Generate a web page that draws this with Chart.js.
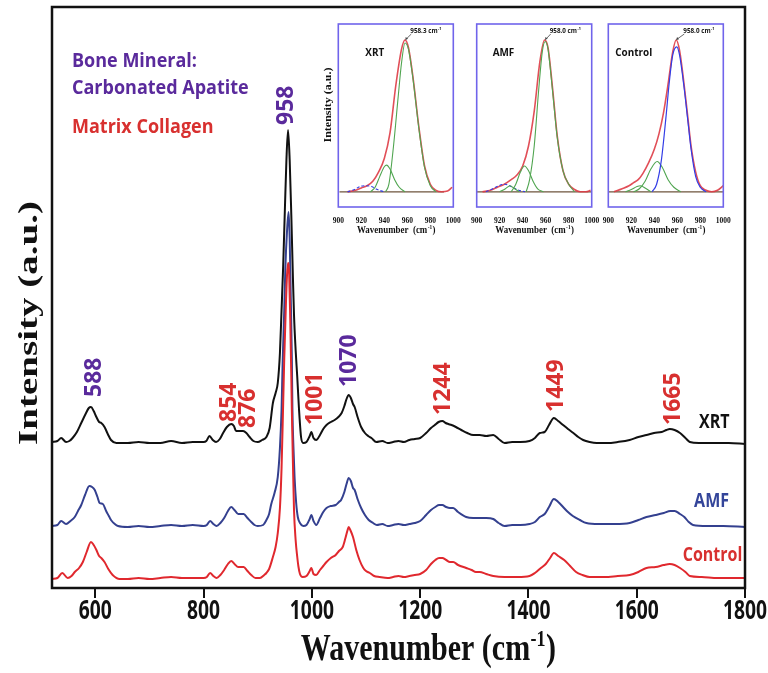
<!DOCTYPE html>
<html>
<head>
<meta charset="utf-8">
<script src="https://cdn.jsdelivr.net/npm/chart.js"></script>
<style>
  body { margin: 0; background: #fff; }
  #wrap { position: relative; width: 768px; height: 673px; }
  #wrap canvas { position: absolute; }
</style>
</head>
<body>
<div id="wrap">
  <canvas id="main" width="768" height="673" style="left:0;top:0"></canvas>
  <canvas id="inXRT" width="150" height="228" style="left:316px;top:16px"></canvas>
  <canvas id="inAMF" width="144" height="228" style="left:462px;top:16px"></canvas>
  <canvas id="inCtrl" width="140" height="228" style="left:596px;top:16px"></canvas>
</div>
<script>
// --- DATA ---

const xTickValues = [600, 800, 1000, 1200, 1400, 1600, 1800];
const insetTickValues = [900, 920, 940, 960, 980, 1000];

// main spectra: wavenumber (cm-1) and stacked intensity (a.u.)
const xrtWn = [520,530,537,546,552,558,566,574,582,588,592,597,602,607,611,617,623,629,639,660,680,700,720,740,760,780,800,805,811,817,823,830,836,843,851,856,860,866,873,879,885,892,900,908,916,922,928,933,937,941,944,947,950,953,956,959,962,965,967,970,973,976,980,984,990,996,999,1003,1008,1015,1021,1027,1035,1042,1049,1055,1060,1064,1068,1072,1076,1079,1085,1091,1098,1104,1110,1119,1130,1140,1150,1160,1170,1180,1190,1200,1211,1220,1227,1234,1241,1247,1252,1258,1266,1276,1287,1298,1310,1322,1335,1345,1356,1370,1385,1402,1412,1421,1430,1438,1447,1455,1464,1473,1483,1492,1501,1513,1526,1545,1565,1587,1603,1618,1632,1646,1655,1661,1670,1680,1690,1698,1715,1741,1770,1800];
const xrtI = [146,147,150,146,147,150,156,165,174,180,181,177,171,166,165,161,154,148,145,145,146,145,145,147,145,146,146,147,152,148,146,149,155,161,164,162,157,157,157,155,151,147,146,148,151,160,185,195,205,235,278,322,376,428,458,428,373,310,273,238,211,181,151,145,146,152,156,150,148,153,159,163,166,168,171,175,182,189,193,190,184,181,170,161,155,152,150,146,147,145,146,147,146,148,149,150,155,160,163,166,167,165,164,163,161,158,155,153,153,152,153,149,145,146,146,147,150,155,156,163,170,167,163,159,155,151,148,146,145,145,146,148,151,153,155,156,158,159,158,155,150,146,145,145,145,144];

const amfWn = [520,530,537,546,554,562,568,574,581,589,594,599,604,608,614,620,625,629,636,642,660,680,700,720,740,760,780,800,806,812,818,824,831,838,845,851,857,864,870,874,881,888,894,900,910,916,921,925,931,937,941,944,946,949,951,954,957,959,961,963,964,966,968,971,974,978,984,990,996,999,1003,1008,1015,1021,1027,1035,1044,1050,1054,1060,1064,1068,1072,1076,1079,1085,1091,1098,1105,1113,1120,1130,1140,1150,1160,1170,1180,1190,1200,1211,1220,1228,1235,1241,1248,1255,1261,1270,1285,1298,1310,1322,1335,1345,1356,1370,1385,1402,1412,1421,1430,1438,1447,1455,1464,1473,1482,1495,1507,1530,1560,1587,1603,1618,1635,1650,1662,1670,1680,1688,1696,1704,1730,1760,1800];
const amfI = [62,63,67,64,67,71,77,83,93,102,101,98,91,85,84,77,72,68,64,62,61,62,61,62,63,62,63,62,63,67,64,62,65,70,77,81,78,74,74,74,70,66,63,62,63,68,74,84,95,111,140,178,225,278,320,356,376,350,290,230,180,140,111,85,71,65,62,63,69,73,67,63,70,76,80,82,83,86,88,96,104,110,107,100,98,88,80,73,68,65,63,64,62,63,64,63,64,65,67,73,78,81,83,83,81,80,80,76,71,70,70,70,69,65,62,63,63,64,66,71,74,81,89,86,81,76,72,68,65,64,64,65,68,71,73,75,77,77,74,71,66,63,62,62,61];

const ctrlWn = [520,530,539,549,556,562,570,577,584,592,597,602,607,611,617,624,632,645,660,680,700,720,740,760,780,800,806,812,818,824,831,838,845,851,857,864,870,874,881,888,896,904,912,916,921,928,933,937,941,944,947,949,952,954,956,958,960,962,963,965,967,970,973,975,978,983,990,996,999,1003,1008,1015,1021,1027,1035,1044,1050,1057,1062,1066,1068,1071,1076,1082,1088,1095,1100,1107,1115,1125,1140,1150,1160,1170,1180,1190,1200,1211,1220,1228,1235,1241,1248,1255,1261,1270,1285,1295,1303,1310,1322,1335,1356,1380,1402,1412,1423,1432,1440,1447,1455,1466,1477,1488,1500,1513,1540,1565,1587,1603,1618,1635,1650,1661,1670,1680,1690,1698,1720,1750,1800];
const ctrlI = [9,10,15,10,12,16,20,26,36,46,43,38,32,30,26,19,13,9,9,10,9,10,11,10,10,10,11,15,12,10,13,18,24,27,24,21,21,21,17,13,10,10,13,15,19,31,41,55,80,120,185,230,283,312,325,315,270,212,178,125,78,48,31,22,14,11,12,17,20,14,13,18,22,26,30,33,37,41,50,58,61,58,51,38,28,20,17,15,12,11,10,11,12,11,12,13,14,18,24,28,30,30,28,26,26,23,20,18,16,16,14,12,11,11,12,15,20,24,30,35,32,28,22,16,13,11,11,12,13,16,20,21,23,24,23,20,16,12,11,10,10];

// inset fits of the 958 band (normalised)
const xrtSumWn = [908,915,920,925,930,935,940,945,950,955,958,961,965,970,975,980,985,990,995,999];
const xrtSumI = [0,0.01,0.025,0.04,0.07,0.13,0.22,0.39,0.70,0.94,1.0,0.95,0.75,0.43,0.17,0.05,0.01,0,0.005,0.03];
const xrtMainWn = [941,944,948,952,955,958,961,965,970,975,980,985];
const xrtMainI = [0,0.05,0.3,0.62,0.85,0.98,0.94,0.74,0.42,0.16,0.04,0];
const xrtSideWn = [928,932,936,940,942,945,949,953,958];
const xrtSideI = [0,0.03,0.1,0.165,0.176,0.15,0.08,0.03,0];
const xrtLowWn = [908,914,919,924,929,934,940];
const xrtLowI = [0,0.015,0.035,0.04,0.035,0.015,0];
const xrtBaseWn = [901,992];
const xrtBaseI = [0,0];

const amfSumWn = [905,912,918,924,930,935,940,945,950,955,959,962,966,970,975,980,985,990,995,999];
const amfSumI = [0,0.01,0.03,0.05,0.08,0.11,0.17,0.3,0.53,0.86,1.0,0.95,0.68,0.37,0.14,0.05,0.015,0,0,0.01];
const amfMainWn = [943,946,950,954,957,959.5,962,966,970,975,980,985];
const amfMainI = [0,0.08,0.3,0.68,0.92,0.99,0.94,0.66,0.36,0.14,0.05,0];
const amfSideWn = [930,934,938,941.5,945,949,953,958];
const amfSideI = [0,0.05,0.13,0.17,0.14,0.07,0.02,0];
const amfSmallWn = [920,925,929,933,937];
const amfSmallI = [0,0.02,0.04,0.02,0];
const amfLowWn = [908,914,919,924.5,930,936,942];
const amfLowI = [0,0.02,0.04,0.05,0.035,0.012,0];
const amfBaseWn = [900,1000];
const amfBaseI = [0,0];

const ctrlSumWn = [905,912,918,922,926,930,935,940,944,948,952,956,959,962,966,969,972,976,980,985,990,995,1000];
const ctrlSumI = [0,0.02,0.04,0.06,0.08,0.12,0.19,0.28,0.38,0.52,0.71,0.92,1.0,0.93,0.7,0.5,0.3,0.13,0.04,0.01,0,0.01,0.04];
const ctrlMainWn = [938,942,946,950,953,956,959.5,962,966,969,972,976,980,985];
const ctrlMainI = [0,0.05,0.2,0.48,0.72,0.9,0.955,0.9,0.68,0.48,0.28,0.1,0.03,0];
const ctrlSideWn = [922,927,932,937,942.5,947,952,957,963];
const ctrlSideI = [0,0.02,0.07,0.15,0.2,0.16,0.08,0.03,0];
const ctrlLowWn = [915,920,925,928,932,937];
const ctrlLowI = [0,0.015,0.035,0.04,0.025,0];
const ctrlBaseWn = [900,1000];
const ctrlBaseI = [0,0];

// --- STYLE ---
const PURPLE = '#5a2a9c';
const RED_TXT = '#d8302f';
const FRAME = 'rgb(112,100,235)';
const FIT_RED = 'rgba(222,60,70,0.9)';
const FIT_GREEN = 'rgb(80,165,80)';
const FIT_BLUE = 'rgb(50,60,230)';
const FIT_BASE = 'rgb(110,85,60)';

// peak labels: [text, wavenumber of label centre, intensity at label foot, colour]
const peakLabels = [
    ['588', 598, 191, PURPLE],
    ['854', 847, 166, RED_TXT],
    ['876', 883, 160, RED_TXT],
    ['958', 953, 463, PURPLE],
    ['1001', 1006, 163, RED_TXT],
    ['1070', 1069, 201, PURPLE],
    ['1244', 1243, 173, RED_TXT],
    ['1449', 1452, 176, RED_TXT],
    ['1665', 1668, 163, RED_TXT]
];
const seriesLabels = [
    ['XRT', 1715, 160, '#111'],
    ['AMF', 1706, 81, '#34459a'],
    ['Control', 1685, 27, RED_TXT]
];

function toXY(xs, ys) {
    return xs.map((x, i) => ({ x: x, y: ys[i] }));
}

function text(ctx, str, x, y, o) {
    ctx.save();
    ctx.translate(x, y);
    ctx.scale(o.sx || 1, 1);
    if (o.rot) ctx.rotate(o.rot);
    ctx.font = o.font;
    ctx.fillStyle = o.color || '#111';
    ctx.textAlign = o.align || 'left';
    ctx.textBaseline = o.base || 'alphabetic';
    ctx.fillText(str, 0, 0);
    ctx.restore();
}

// text with a superscript part (cm-1)
function supText(ctx, main, sup, tail, x, y, size, family, sx, align) {
    ctx.save();
    ctx.translate(x, y);
    ctx.scale(sx, 1);
    const f1 = 'bold ' + size + 'px ' + family;
    const f2 = 'bold ' + (size * 0.6) + 'px ' + family;
    ctx.font = f1;
    const w1 = ctx.measureText(main).width;
    const w3 = ctx.measureText(tail).width;
    ctx.font = f2;
    const w2 = ctx.measureText(sup).width;
    const x0 = align === 'center' ? -(w1 + w2 + w3) / 2 : 0;
    ctx.fillStyle = '#111';
    ctx.textAlign = 'left';
    ctx.textBaseline = 'alphabetic';
    ctx.font = f1; ctx.fillText(main, x0, 0);
    ctx.font = f2; ctx.fillText(sup, x0 + w1 + 0.5, -size * 0.38);
    ctx.font = f1; ctx.fillText(tail, x0 + w1 + w2 + 1, 0);
    ctx.restore();
}

// --- MAIN CHART ---

const mainDecor = {
    id: 'mainDecor',
    afterDraw(chart) {
        const ctx = chart.ctx;
        const a = chart.chartArea;
        const x = chart.scales.x, y = chart.scales.y;

        ctx.save();
        ctx.strokeStyle = '#111';
        ctx.lineWidth = 2.5;
        ctx.strokeRect(a.left, a.top, a.right - a.left, a.bottom - a.top);
        ctx.restore();

        xTickValues.forEach(v => {
            text(ctx, String(v), x.getPixelForValue(v), a.bottom + 31,
                { font: 'bold 26px "Open Sans"', align: 'center', sx: 0.74 });
        });

        supText(ctx, 'Wavenumber (cm', '-1', ')', 428, 660, 38, '"Liberation Serif"', 0.79, 'center');
        text(ctx, 'Intensity (a.u.)', 30, 323,
            { font: 'bold 39px "Liberation Serif"', align: 'center', base: 'middle', rot: -Math.PI / 2, sx: 0.72 });

        // legend text
        const lf = 'bold 20px "Open Sans"';
        text(ctx, 'Bone Mineral:', a.left + 20, 66.5, { font: lf, color: PURPLE, sx: 0.9 });
        text(ctx, 'Carbonated Apatite', a.left + 20, 94, { font: lf, color: PURPLE, sx: 0.9 });
        text(ctx, 'Matrix Collagen', a.left + 20, 132.5, { font: lf, color: RED_TXT, sx: 0.9 });

        peakLabels.forEach(p => {
            text(ctx, p[0], x.getPixelForValue(p[1]), y.getPixelForValue(p[2]),
                { font: 'bold 23px "Open Sans"', color: p[3], base: 'middle', rot: -Math.PI / 2 });
        });

        seriesLabels.forEach(s => {
            text(ctx, s[0], x.getPixelForValue(s[1]), y.getPixelForValue(s[2]),
                { font: 'bold 20px "Open Sans"', color: s[3], sx: 0.8 });
        });
    }
};

function spectrum(label, xs, ys, color, order) {
    return {
        label: label,
        data: toXY(xs, ys),
        showLine: true,
        borderColor: color,
        borderWidth: 2,
        pointRadius: 0,
        cubicInterpolationMode: 'monotone',
        fill: false,
        order: order
    };
}

new Chart(document.getElementById('main'), {
    type: 'scatter',
    data: {
        datasets: [
            spectrum('XRT', xrtWn, xrtI, '#111111', 3),
            spectrum('AMF', amfWn, amfI, '#34408f', 2),
            spectrum('Control', ctrlWn, ctrlI, '#e0282e', 1)
        ]
    },
    options: {
        responsive: false,
        animation: false,
        layout: { padding: { left: 52, right: 23, top: 7, bottom: 0 } },
        plugins: { legend: { display: false }, tooltip: { enabled: false } },
        scales: {
            x: {
                type: 'linear',
                min: 520,
                max: 1800,
                afterBuildTicks: s => { s.ticks = xTickValues.map(v => ({ value: v })); },
                afterFit: s => { s.height = 85; },
                ticks: { display: false },
                grid: { drawOnChartArea: false, drawTicks: true, tickLength: 10, color: '#111', lineWidth: 2 },
                border: { display: false }
            },
            y: { display: false, min: 0, max: 581 }
        }
    },
    plugins: [mainDecor]
});

// --- INSETS ---

function fitLine(xs, ys, color, width, dash, order) {
    return {
        data: toXY(xs, ys),
        showLine: true,
        borderColor: color,
        borderWidth: width,
        borderDash: dash || [],
        pointRadius: 0,
        cubicInterpolationMode: 'monotone',
        fill: false,
        order: order
    };
}

function insetDecor(cfg) {
    return {
        id: 'insetDecor',
        afterDraw(chart) {
            const ctx = chart.ctx;
            const a = chart.chartArea;
            const x = chart.scales.x, y = chart.scales.y;

            ctx.save();
            ctx.strokeStyle = FRAME;
            ctx.lineWidth = 1.6;
            ctx.strokeRect(a.left, a.top, a.right - a.left, a.bottom - a.top);
            ctx.restore();

            text(ctx, cfg.name, a.left + cfg.nameDx, a.top + 32, { font: 'bold 11px "Open Sans"', sx: 0.9 });

            // peak position note with arrow
            const px = x.getPixelForValue(cfg.peakWn), py = y.getPixelForValue(1);
            const tx = a.left + cfg.noteDx, ty = a.top + 9;
            ctx.save();
            ctx.strokeStyle = '#444';
            ctx.fillStyle = '#444';
            ctx.lineWidth = 0.8;
            ctx.beginPath();
            ctx.moveTo(tx + 1, ty + 1);
            ctx.lineTo(px + 0.5, py - 0.5);
            ctx.stroke();
            const ang = Math.atan2(py - ty, px - tx);
            ctx.beginPath();
            ctx.moveTo(px, py);
            ctx.lineTo(px - 3 * Math.cos(ang - 0.5), py - 3 * Math.sin(ang - 0.5));
            ctx.lineTo(px - 3 * Math.cos(ang + 0.5), py - 3 * Math.sin(ang + 0.5));
            ctx.closePath();
            ctx.fill();
            ctx.restore();
            supText(ctx, cfg.note, '-1', '', tx, ty, 7, '"Open Sans"', 0.9, 'left');

            supText(ctx, 'Wavenumber  (cm', '-1', ')', (a.left + a.right) / 2, a.bottom + 26, 10.5, '"Liberation Serif"', 0.85, 'center');
            if (cfg.yTitle) {
                text(ctx, 'Intensity (a.u.)', a.left - 10, a.top + 81,
                    { font: 'bold 12px "Liberation Serif"', align: 'center', base: 'middle', rot: -Math.PI / 2, sx: 0.8 });
            }
        }
    };
}

function makeInset(id, pad, datasets, cfg) {
    new Chart(document.getElementById(id), {
        type: 'scatter',
        data: { datasets: datasets },
        options: {
            responsive: false,
            animation: false,
            layout: { padding: pad },
            plugins: { legend: { display: false }, tooltip: { enabled: false } },
            scales: {
                x: {
                    type: 'linear',
                    min: 900,
                    max: 1000,
                    afterBuildTicks: s => { s.ticks = insetTickValues.map(v => ({ value: v })); },
                    afterFit: s => { s.height = 37; },
                    ticks: {
                        autoSkip: false,
                        maxRotation: 0,
                        padding: 2,
                        color: '#111',
                        font: { family: 'Liberation Serif', weight: 'bold', size: 7.5 },
                        callback: v => String(v)
                    },
                    grid: { display: false },
                    border: { display: false }
                },
                y: { display: false, min: -0.1, max: 1.105 }
            }
        },
        plugins: [insetDecor(cfg)]
    });
}

makeInset('inXRT', { left: 22.3, right: 12.7, top: 8, bottom: 0 }, [
    fitLine(xrtBaseWn, xrtBaseI, FIT_BASE, 1.2, null, 6),
    fitLine(xrtSumWn, xrtSumI, FIT_RED, 1.6, null, 5),
    fitLine(xrtLowWn, xrtLowI, FIT_BLUE, 1.1, [3, 2], 3),
    fitLine(xrtSideWn, xrtSideI, FIT_GREEN, 1.1, null, 2),
    fitLine(xrtMainWn, xrtMainI, FIT_GREEN, 1.1, null, 1)
], { name: 'XRT', nameDx: 27, note: '958.3 cm', noteDx: 72, peakWn: 958.3, yTitle: true });

makeInset('inAMF', { left: 14.7, right: 14.3, top: 8, bottom: 0 }, [
    fitLine(amfBaseWn, amfBaseI, FIT_BASE, 1.2, null, 6),
    fitLine(amfSumWn, amfSumI, FIT_RED, 1.6, null, 5),
    fitLine(amfLowWn, amfLowI, FIT_BLUE, 1.1, [3, 2], 4),
    fitLine(amfSmallWn, amfSmallI, FIT_GREEN, 1.1, null, 3),
    fitLine(amfSideWn, amfSideI, FIT_GREEN, 1.1, null, 2),
    fitLine(amfMainWn, amfMainI, FIT_GREEN, 1.1, null, 1)
], { name: 'AMF', nameDx: 16, note: '958.0 cm', noteDx: 73, peakWn: 959.5, yTitle: false });

makeInset('inCtrl', { left: 12.3, right: 12.7, top: 8, bottom: 0 }, [
    fitLine(ctrlBaseWn, ctrlBaseI, FIT_BASE, 1.2, null, 6),
    fitLine(ctrlSumWn, ctrlSumI, FIT_RED, 1.6, null, 5),
    fitLine(ctrlLowWn, ctrlLowI, FIT_GREEN, 1.1, null, 3),
    fitLine(ctrlSideWn, ctrlSideI, FIT_GREEN, 1.1, null, 2),
    fitLine(ctrlMainWn, ctrlMainI, FIT_BLUE, 1.2, null, 1)
], { name: 'Control', nameDx: 7, note: '958.0 cm', noteDx: 75, peakWn: 959, yTitle: false });
</script>
</body>
</html>
